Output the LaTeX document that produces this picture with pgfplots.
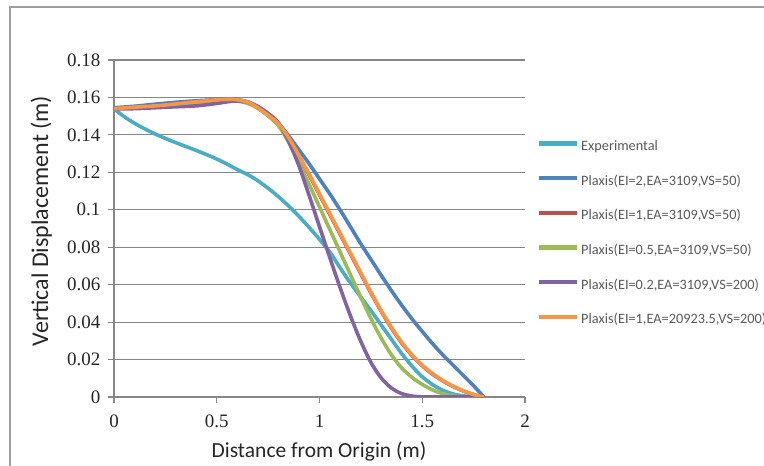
\documentclass[border=0pt]{standalone}
\usepackage{fontspec}
\usepackage{pgfplots}
\pgfplotsset{compat=1.18}
\setmainfont{Carlito}
\newfontfamily\tnr{Liberation Serif}
\definecolor{axgray}{HTML}{868686}
\definecolor{cExp}{HTML}{4BACC6}
\definecolor{cB}{HTML}{4F81BD}
\definecolor{cR}{HTML}{C0504D}
\definecolor{cG}{HTML}{9BBB59}
\definecolor{cP}{HTML}{8064A2}
\definecolor{cO}{HTML}{F79646}
\begin{document}
\begin{tikzpicture}
\useasboundingbox (0,0) rectangle (764pt,466pt);
\clip (0,0) rectangle (764pt,466pt);
% chart frame (right and bottom edges fall outside the picture)
\draw[axgray!80, line width=1.2pt] (10pt,-10pt) -- (10pt,459pt) -- (780pt,459pt);
\begin{axis}[
    at={(114pt,69pt)}, anchor=south west,
    scale only axis, width=411pt, height=337pt,
    xmin=0, xmax=2, ymin=0, ymax=0.18,
    axis x line=bottom, axis y line=left,
    axis line style={draw=axgray, line width=1.2pt, -},
    xtick={0,0.5,1,1.5,2},
    ytick={0,0.02,0.04,0.06,0.08,0.1,0.12,0.14,0.16,0.18},
    ymajorgrids, grid style={draw=axgray, line width=1.2pt},
    tick align=outside, major tick length=6pt,
    tick style={draw=axgray, line width=1.2pt},
    scaled y ticks=false,
    /pgf/number format/assume math mode=true,
    /pgf/number format/fixed, /pgf/number format/precision=2,
    yticklabel style={xshift=-4pt},
    xticklabel style={yshift=-8pt},
    ticklabel style={font=\tnr\fontsize{19}{19}\selectfont, text=black!85},
    legend style={at={(1.022,0.768)}, anchor=north west, draw=none, fill=none,
        font=\fontsize{14.3}{14.3}\selectfont, text=black!65,
        row sep=21.7pt,
        nodes={inner ysep=0pt, inner xsep=1.5pt, text height=10pt, text depth=3pt}},
    legend cell align=left,
    legend image code/.code={\draw[#1, line width=4.5pt] (0pt,0.35em) -- (38pt,0.35em);},
    every axis plot/.append style={line width=3.6pt, smooth, tension=0.5},
]
\addplot[cExp] coordinates {
 (0,0.154) (0.05,0.1497) (0.10,0.1462) (0.15,0.1432) (0.20,0.1405) (0.25,0.1381)
 (0.30,0.1359) (0.35,0.1338) (0.40,0.1317) (0.45,0.1295) (0.50,0.1271) (0.55,0.1244)
 (0.60,0.1215) (0.65,0.1188) (0.70,0.1155) (0.75,0.1115) (0.80,0.107) (0.85,0.102)
 (0.90,0.0965) (0.95,0.0905) (1.00,0.0842) (1.05,0.0775) (1.10,0.069) (1.15,0.061)
 (1.20,0.0535) (1.25,0.0462) (1.30,0.0385) (1.35,0.0308) (1.40,0.0232) (1.45,0.0165)
 (1.50,0.0108) (1.55,0.0066) (1.60,0.0036) (1.65,0.0016) (1.70,0.0006) (1.75,0.0001) (1.80,0)
};
\addlegendentry{Experimental}
\addplot[cB] coordinates {
 (0,0.1545) (0.1,0.1553) (0.2,0.1564) (0.3,0.1574) (0.4,0.1582) (0.5,0.1588)
 (0.58,0.159) (0.65,0.1577) (0.70,0.1548) (0.75,0.1508) (0.80,0.1462) (0.85,0.1395)
 (0.90,0.132) (0.95,0.1245) (1.00,0.1165) (1.05,0.1085) (1.10,0.100) (1.15,0.091)
 (1.20,0.082) (1.25,0.0735) (1.30,0.065) (1.35,0.0568) (1.40,0.049) (1.45,0.0417)
 (1.50,0.035) (1.55,0.0285) (1.60,0.0225) (1.65,0.017) (1.70,0.0115) (1.75,0.006) (1.80,0)
};
\addlegendentry{Plaxis(EI=2,EA=3109,VS=50)}
\addplot[cR] coordinates {
 (0,0.154) (0.1,0.1548) (0.2,0.1555) (0.3,0.1565) (0.4,0.1577) (0.5,0.1587)
 (0.58,0.159) (0.65,0.1573) (0.70,0.1543) (0.75,0.1503) (0.80,0.1457) (0.85,0.138)
 (0.90,0.1285) (0.95,0.1185) (1.00,0.108) (1.05,0.0975) (1.10,0.087) (1.15,0.0765)
 (1.20,0.066) (1.25,0.0556) (1.30,0.0458) (1.35,0.0368) (1.40,0.0288) (1.45,0.0222)
 (1.50,0.0167) (1.55,0.0122) (1.60,0.0086) (1.65,0.0056) (1.70,0.0032) (1.75,0.0013) (1.80,0)
};
\addlegendentry{Plaxis(EI=1,EA=3109,VS=50)}
\addplot[cG] coordinates {
 (0,0.154) (0.1,0.1545) (0.2,0.155) (0.3,0.156) (0.4,0.157) (0.5,0.158)
 (0.58,0.1585) (0.65,0.1568) (0.70,0.1542) (0.75,0.1502) (0.80,0.145) (0.85,0.136)
 (0.90,0.125) (0.95,0.1135) (1.00,0.1015) (1.05,0.0895) (1.10,0.0775) (1.15,0.0655)
 (1.20,0.0535) (1.25,0.042) (1.30,0.0315) (1.35,0.0225) (1.40,0.0155) (1.45,0.0105)
 (1.50,0.0067) (1.55,0.0038) (1.60,0.0018) (1.65,0.0006) (1.70,0.0001) (1.75,0) (1.80,0)
};
\addlegendentry{Plaxis(EI=0.5,EA=3109,VS=50)}
\addplot[cP] coordinates {
 (0,0.154) (0.1,0.154) (0.2,0.1545) (0.3,0.155) (0.4,0.1555) (0.5,0.1568)
 (0.58,0.158) (0.65,0.1575) (0.70,0.1552) (0.75,0.1515) (0.80,0.1465) (0.85,0.1365)
 (0.90,0.1235) (0.95,0.1075) (1.00,0.091) (1.05,0.0745) (1.10,0.0585) (1.15,0.0435)
 (1.20,0.030) (1.25,0.0185) (1.30,0.0102) (1.35,0.0048) (1.40,0.0018) (1.45,0.0005)
 (1.50,0.0001) (1.55,0) (1.60,0) (1.70,0) (1.80,0)
};
\addlegendentry{Plaxis(EI=0.2,EA=3109,VS=200)}
\addplot[cO] coordinates {
 (0,0.154) (0.1,0.1548) (0.2,0.1555) (0.3,0.1565) (0.4,0.1577) (0.5,0.1587)
 (0.58,0.159) (0.65,0.1575) (0.70,0.1545) (0.75,0.1505) (0.80,0.146) (0.85,0.1385)
 (0.90,0.129) (0.95,0.119) (1.00,0.1085) (1.05,0.098) (1.10,0.0875) (1.15,0.077)
 (1.20,0.0665) (1.25,0.056) (1.30,0.0462) (1.35,0.0372) (1.40,0.0292) (1.45,0.0225)
 (1.50,0.017) (1.55,0.0125) (1.60,0.0088) (1.65,0.0058) (1.70,0.0033) (1.75,0.0013) (1.80,0)
};
\addlegendentry{Plaxis(EI=1,EA=20923.5,VS=200)}
\end{axis}
\node[anchor=base, font=\fontsize{21.5}{21.5}\selectfont, text=black!85] at (319pt,8pt) {Distance from Origin (m)};
\node[anchor=base, rotate=90, font=\fontsize{24}{24}\selectfont, text=black!85] at (48pt,245pt) {Vertical Displacement (m)};
\end{tikzpicture}
\end{document}
